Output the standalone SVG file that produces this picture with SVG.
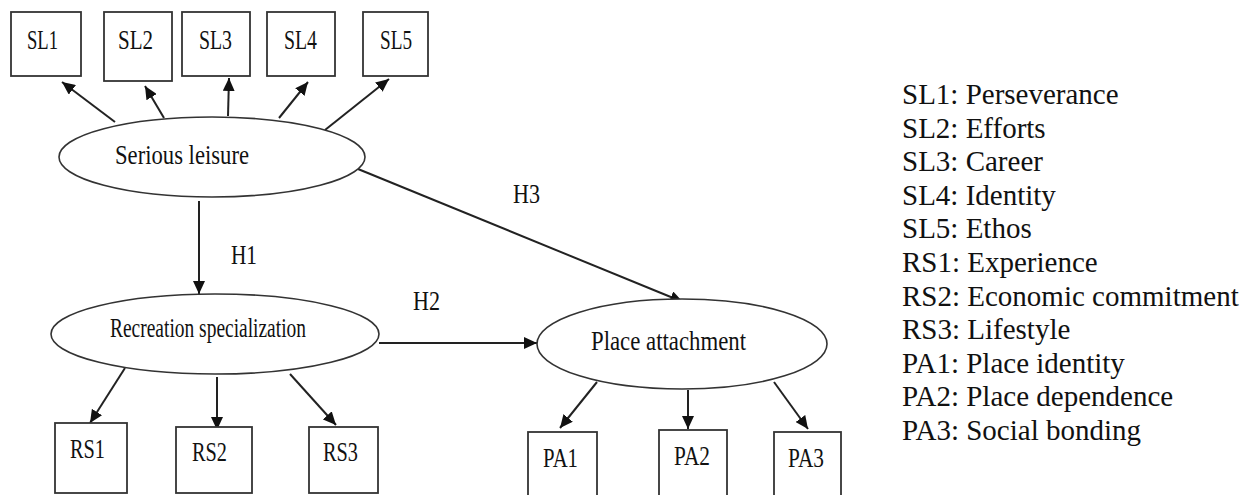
<svg xmlns="http://www.w3.org/2000/svg" width="1256" height="495" viewBox="0 0 1256 495">
<style>
.box{fill:#fff;stroke:#333;stroke-width:1.8}
.ell{fill:#fff;stroke:#333;stroke-width:1.6}
.lbl{font-family:"Liberation Serif","Times New Roman",serif;font-size:27px;fill:#111}
.leg{font-family:"Liberation Serif","Times New Roman",serif;font-size:29px;fill:#111}
.con{stroke:#222;stroke-width:2;fill:none;marker-end:url(#ah)}
</style>
<defs>
<marker id="ah" markerUnits="userSpaceOnUse" markerWidth="14" markerHeight="12" refX="13" refY="6" orient="auto">
<path d="M0,0 L13,6 L0,12 z" fill="#111"/>
</marker>
</defs>
<rect width="1256" height="495" fill="#fff"/>
<g id="connectors">
<line class="con" x1="115" y1="122" x2="62" y2="82"/>
<line class="con" x1="164" y1="118" x2="145" y2="86"/>
<line class="con" x1="228" y1="116" x2="229" y2="78"/>
<line class="con" x1="279" y1="118" x2="308" y2="82"/>
<line class="con" x1="325" y1="130" x2="389" y2="79"/>
<line class="con" x1="199" y1="201" x2="199" y2="294"/>
<line class="con" x1="358" y1="169" x2="683" y2="302"/>
<line class="con" x1="379" y1="343" x2="537" y2="343"/>
<line class="con" x1="125" y1="368" x2="90" y2="423"/>
<line class="con" x1="217" y1="377" x2="217" y2="430"/>
<line class="con" x1="290" y1="374" x2="336" y2="425"/>
<line class="con" x1="597" y1="382" x2="560" y2="428"/>
<line class="con" x1="688" y1="390" x2="688" y2="429"/>
<line class="con" x1="774" y1="382" x2="808" y2="429"/>
<text class="lbl" x="231" y="264" textLength="26" lengthAdjust="spacingAndGlyphs">H1</text>
<text class="lbl" x="413" y="310" textLength="27" lengthAdjust="spacingAndGlyphs">H2</text>
<text class="lbl" x="513" y="203" textLength="27" lengthAdjust="spacingAndGlyphs">H3</text>
</g>
<g id="SL1"><rect class="box" x="11" y="12" width="70" height="64"/><text class="lbl" x="27" y="49" textLength="31" lengthAdjust="spacingAndGlyphs">SL1</text></g>
<g id="SL2"><rect class="box" x="104" y="12" width="68" height="69"/><text class="lbl" x="118" y="49" textLength="35" lengthAdjust="spacingAndGlyphs">SL2</text></g>
<g id="SL3"><rect class="box" x="182" y="12" width="68" height="64"/><text class="lbl" x="199" y="49" textLength="33" lengthAdjust="spacingAndGlyphs">SL3</text></g>
<g id="SL4"><rect class="box" x="267" y="12" width="68" height="64"/><text class="lbl" x="284" y="49" textLength="33" lengthAdjust="spacingAndGlyphs">SL4</text></g>
<g id="SL5"><rect class="box" x="363" y="12" width="65" height="64"/><text class="lbl" x="380" y="49" textLength="32" lengthAdjust="spacingAndGlyphs">SL5</text></g>
<g id="serious-leisure"><ellipse class="ell" cx="212" cy="157" rx="153" ry="40"/><text class="lbl" x="115" y="164" textLength="134" lengthAdjust="spacingAndGlyphs">Serious leisure</text></g>
<g id="recreation-specialization"><ellipse class="ell" cx="215" cy="334" rx="164" ry="40"/><text class="lbl" x="110" y="337" textLength="196" lengthAdjust="spacingAndGlyphs">Recreation specialization</text></g>
<g id="place-attachment"><ellipse class="ell" cx="682" cy="344" rx="145" ry="45"/><text class="lbl" x="591" y="350" textLength="155" lengthAdjust="spacingAndGlyphs">Place attachment</text></g>
<g id="RS1"><rect class="box" x="55" y="423" width="72" height="70"/><text class="lbl" x="70" y="458" textLength="35" lengthAdjust="spacingAndGlyphs">RS1</text></g>
<g id="RS2"><rect class="box" x="176" y="427" width="76" height="66"/><text class="lbl" x="192" y="461" textLength="35" lengthAdjust="spacingAndGlyphs">RS2</text></g>
<g id="RS3"><rect class="box" x="309" y="427" width="69" height="66"/><text class="lbl" x="323" y="461" textLength="35" lengthAdjust="spacingAndGlyphs">RS3</text></g>
<g id="PA1"><rect class="box" x="528" y="432" width="69" height="70"/><text class="lbl" x="543" y="467" textLength="35" lengthAdjust="spacingAndGlyphs">PA1</text></g>
<g id="PA2"><rect class="box" x="659" y="430" width="68" height="72"/><text class="lbl" x="674" y="465" textLength="36" lengthAdjust="spacingAndGlyphs">PA2</text></g>
<g id="PA3"><rect class="box" x="774" y="432" width="67" height="70"/><text class="lbl" x="788" y="467" textLength="36" lengthAdjust="spacingAndGlyphs">PA3</text></g>
<g id="legend" class="leg">
<text x="902" y="104">SL1: Perseverance</text>
<text x="902" y="138">SL2: Efforts</text>
<text x="902" y="171">SL3: Career</text>
<text x="902" y="205">SL4: Identity</text>
<text x="902" y="238">SL5: Ethos</text>
<text x="902" y="272">RS1: Experience</text>
<text x="902" y="306">RS2: Economic commitment</text>
<text x="902" y="339">RS3: Lifestyle</text>
<text x="902" y="373">PA1: Place identity</text>
<text x="902" y="406">PA2: Place dependence</text>
<text x="902" y="440">PA3: Social bonding</text>
</g>
</svg>
